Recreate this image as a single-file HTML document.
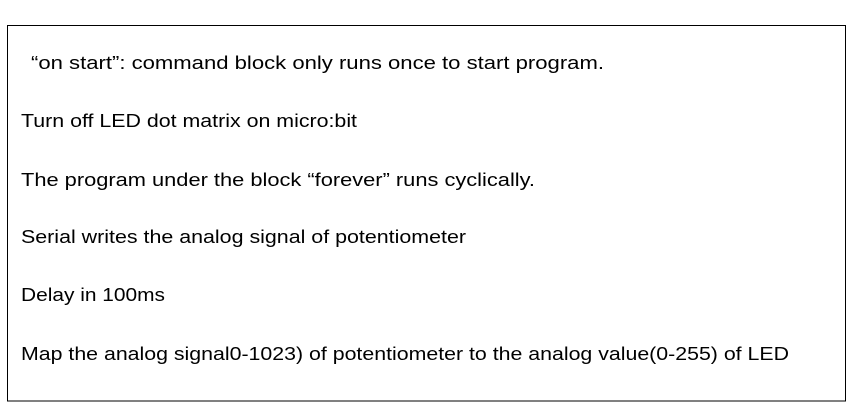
<!DOCTYPE html>
<html><head><meta charset="utf-8"><style>
html,body{margin:0;padding:0;background:#fff;width:861px;height:415px;overflow:hidden}
svg text{font-family:"Liberation Sans","Noto Sans CJK SC",sans-serif;font-size:18px;fill:#000}
</style></head><body>
<svg width="861" height="415" xmlns="http://www.w3.org/2000/svg">
<rect x="7.5" y="25.5" width="838" height="375.5" fill="#fff" stroke="#000" stroke-width="1"/>
<text x="31" y="69" textLength="573" lengthAdjust="spacingAndGlyphs">“on start”: command block only runs once to start program.</text>
<text x="21" y="127" textLength="336" lengthAdjust="spacingAndGlyphs">Turn off LED dot matrix on micro:bit</text>
<text x="21" y="186" textLength="514" lengthAdjust="spacingAndGlyphs">The program under the block “forever” runs cyclically.</text>
<text x="21" y="243" textLength="445" lengthAdjust="spacingAndGlyphs">Serial writes the analog signal of potentiometer</text>
<text x="21" y="301" textLength="144" lengthAdjust="spacingAndGlyphs">Delay in 100ms</text>
<text x="21" y="360" textLength="768" lengthAdjust="spacingAndGlyphs">Map the analog signal0-1023) of potentiometer to the analog value(0-255) of LED</text>
</svg>
</body></html>
